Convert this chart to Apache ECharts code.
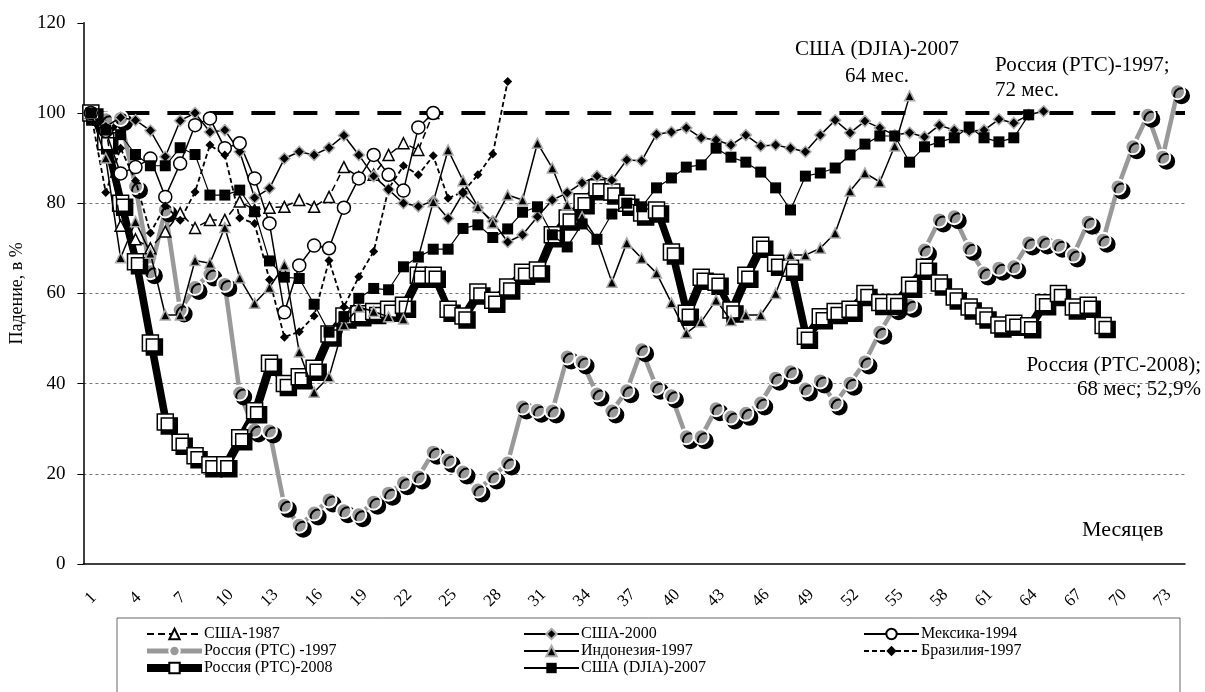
<!DOCTYPE html>
<html><head><meta charset="utf-8">
<script src="https://cdn.jsdelivr.net/npm/echarts@6/dist/echarts.min.js"></script>
<style>html,body{margin:0;padding:0;background:#fff}#c{width:1205px;height:692px}</style>
</head><body><div id="c"></div><script>
const months = ['1','2','3','4','5','6','7','8','9','10','11','12','13','14','15','16','17','18','19','20','21','22','23','24','25','26','27','28','29','30','31','32','33','34','35','36','37','38','39','40','41','42','43','44','45','46','47','48','49','50','51','52','53','54','55','56','57','58','59','60','61','62','63','64','65','66','67','68','69','70','71','72','73','74'];
const usa1987 = [100, 97, 75, 72, 70, 73.7, 77.8, 74.5, 76.3, 76.3, 80.4, 78.5, 79, 79.2, 80.7, 79.2, 81.4, 88, 85.8, 86.3, 90.7, 93.3, 91.8, 100];
const usa2000 = [100, 97, 99, 98.4, 96.1, 90.3, 98.3, 100, 95.8, 96.2, 91.4, 81.2, 83.3, 89.9, 91.4, 90.7, 92.3, 95, 90.7, 86, 83, 80, 79.3, 80.5, 76.6, 82.2, 79, 76, 71.4, 73, 77, 80.7, 82.3, 84.5, 86, 85.1, 89.6, 89.4, 95.3, 95.8, 96.7, 94.5, 94, 92.9, 95.1, 92.7, 92.9, 92.2, 91.4, 95.1, 98.4, 95.6, 98.2, 96.7, 95.1, 95.6, 94.7, 97.3, 96.2, 96, 96.2, 98.6, 97.8, 99.6, 100.4];
const mexico1994 = [100, 96, 86.6, 88, 89.9, 81.4, 88.8, 97.3, 98.8, 92.2, 93.3, 85.5, 75.5, 55.8, 66.2, 70.6, 70, 79, 85.5, 90.7, 86.3, 82.8, 96.8, 100];
const russia1997 = [100, 98.5, 98.8, 83.7, 64.8, 78.5, 56.3, 61.3, 64.3, 62, 37.9, 29.7, 29.5, 13, 8.6, 11.3, 14.2, 11.8, 10.9, 13.7, 15.7, 18, 19.3, 24.8, 23, 20.4, 16.4, 19.3, 22.4, 34.8, 34.1, 33.9, 45.9, 44.8, 37.7, 33.9, 38.4, 47.5, 39.2, 37.3, 28.2, 28.2, 34.4, 32.6, 33.4, 35.7, 41.2, 42.6, 38.8, 40.6, 35.7, 40.1, 44.8, 51.4, 56.8, 57.4, 69.6, 76.3, 77, 70, 64.5, 65.6, 65.9, 71.2, 71.4, 70.7, 68.5, 75.8, 71.8, 83.6, 92.5, 99.5, 90.2, 104.7];
const indonesia1997 = [100, 90, 67.9, 75.9, 68.9, 55.2, 55.2, 67.3, 66.7, 74.6, 63.4, 57.8, 61.3, 66.3, 47, 38.1, 41.5, 53, 57, 56, 54.8, 54.3, 68, 80.3, 91.8, 85, 79.2, 75.6, 81.8, 80.7, 93.3, 87.8, 79.6, 77, 72, 62.5, 71.2, 67.8, 64.5, 57.9, 51.2, 53.7, 58.5, 54, 55.2, 55.2, 60, 68.5, 68.5, 70, 73.4, 82.7, 86.7, 84.7, 92.7, 103.8];
const brazil1997 = [100, 82.4, 92.2, 85, 73.4, 79.4, 76.2, 82.5, 92.9, 90.7, 76.7, 75.5, 63, 50.3, 51.5, 55, 67.3, 57, 63.7, 69.3, 83.2, 88.3, 86.3, 90.5, 81.1, 82.5, 86.3, 90.9, 107];
const russia2008 = [100, 93.6, 80, 67, 49, 31.5, 27, 24, 22, 22, 28, 34, 44.5, 40, 41.5, 43.4, 51, 55, 55.5, 56, 56.5, 57.4, 64, 64, 56.5, 55, 60.3, 58.5, 61.4, 64.7, 65.2, 73, 76.7, 80.3, 83.4, 82.5, 80, 77.8, 78.5, 69.2, 55.6, 63.6, 62.5, 56.3, 64, 70.7, 66.7, 65.6, 50.5, 54.8, 56, 56.5, 60, 58, 58, 61.8, 65.8, 62.3, 59.2, 57, 55, 53, 53.4, 52.8, 57.9, 60, 57, 57.4, 52.9];
const djia2007 = [100, 96.2, 95.2, 90.8, 88.3, 88.3, 92.3, 90.8, 81.8, 81.8, 82.9, 78.1, 67.2, 63.6, 63.3, 57.6, 51.4, 54.8, 58.9, 61.1, 60.8, 65.9, 68.1, 69.8, 69.8, 74.4, 75.2, 72.4, 74.3, 78, 79.2, 73, 70.3, 75.4, 72, 77.6, 80, 79.2, 83.4, 85.6, 88, 88.5, 92.2, 90.2, 89.1, 86.9, 83.4, 78.5, 86, 86.7, 87.8, 90.7, 93.1, 94.9, 94.9, 89.1, 92.5, 93.6, 94.5, 96.9, 94.5, 93.6, 94.5, 99.6];
const yTicks = [0, 20, 40, 60, 80, 100, 120];
const gridValues = [20, 40, 60, 80];
const baseLevel = 100;

const F = "'Liberation Serif','Times New Roman',serif";
const names = {
  a: 'США-1987', b: 'США-2000', c: 'Мексика-1994',
  d: 'Россия (РТС) -1997', e: 'Индонезия-1997', f: 'Бразилия-1997',
  g: 'Россия (РТС)-2008', h: 'США (DJIA)-2007'
};
const sh = {shadowColor: '#000', shadowOffsetX: 4, shadowOffsetY: 4, shadowBlur: 0};

const chart = echarts.init(document.getElementById('c'), null, {renderer: 'canvas'});
const legendBase = {orient: 'vertical', top: 621, itemWidth: 55, itemHeight: 13, itemGap: 1,
  textStyle: {fontFamily: F, fontSize: 16, lineHeight: 14, color: '#000', padding: [0, 0, 0, -3]}, selectedMode: false};
function mk(o) { return Object.assign({type: 'line', showSymbol: true, showAllSymbol: true}, o); }
chart.setOption({
  animation: false,
  backgroundColor: '#fff',
  grid: {left: 82, right: 20, top: 22.8, bottom: 128, containLabel: false},
  legend: [
    Object.assign({left: 138, data: [names.a, {name: names.d, lineStyle: {width: 5}}, {name: names.g, lineStyle: {width: 8}}]}, legendBase),
    Object.assign({left: 518, data: [names.b, names.e, names.h]}, legendBase),
    Object.assign({left: 858, data: [names.c, names.f]}, legendBase)
  ],
  xAxis: {
    type: 'category', data: months, boundaryGap: true,
    axisLine: {lineStyle: {color: '#000', width: 1.5}},
    axisTick: {interval: 0, length: 6, lineStyle: {color: '#000'}},
    axisLabel: {interval: 2, rotate: 45, align: 'center', verticalAlign: 'middle', fontFamily: F, fontSize: 17, color: '#000', margin: 34},
    splitLine: {show: false}
  },
  yAxis: {
    type: 'value', min: yTicks[0], max: yTicks[yTicks.length - 1], interval: 20,
    name: 'Падение, в %', nameLocation: 'middle', nameGap: 56, nameRotate: 90,
    nameTextStyle: {fontFamily: F, fontSize: 18, color: '#000'},
    axisLine: {show: true, lineStyle: {color: '#000', width: 1.5}},
    axisTick: {show: true, length: 6, lineStyle: {color: '#000'}},
    axisLabel: {fontFamily: F, fontSize: 19, color: '#000', margin: 18},
    splitLine: {show: false}
  },
  graphic: [
    {type: 'rect', shape: {x: 117, y: 618, width: 1063, height: 80}, style: {fill: 'none', stroke: '#666', lineWidth: 1}, silent: true},
    {type: 'text', left: 1082, top: 519, style: {text: 'Месяцев', font: '22px ' + F, fill: '#000'}},
    {type: 'text', x: 877, y: 36, style: {text: 'США (DJIA)-2007\n64 мес.', font: '21px ' + F, fill: '#000', textAlign: 'center', lineHeight: 27}},
    {type: 'text', x: 995, y: 53, style: {text: 'Россия (РТС)-1997;\n72 мес.', font: '21px ' + F, fill: '#000', textAlign: 'left', lineHeight: 25}},
    {type: 'text', x: 1201, y: 353, style: {text: 'Россия (РТС-2008);\n68 мес; 52,9%', font: '21px ' + F, fill: '#000', textAlign: 'right', lineHeight: 24}}
  ],
  series: [
    mk({name: names.a, data: usa1987, symbol: 'triangle', symbolSize: 11,
      lineStyle: {color: '#000', width: 1.5, type: [7, 4]},
      itemStyle: {color: '#fff', borderColor: '#000', borderWidth: 1.5},
      markLine: {silent: true, symbol: 'none', label: {show: false}, z: 0,
        data: gridValues.map(v => ({yAxis: v, lineStyle: {color: '#777', width: 1, type: [3, 3]}}))
          .concat([{yAxis: baseLevel, lineStyle: {color: '#000', width: 4, type: [24, 18]}}])}}),
    mk({name: names.b, data: usa2000, symbol: 'diamond', symbolSize: 11,
      lineStyle: {color: '#000', width: 1.5},
      itemStyle: {color: '#000', borderColor: '#aaa', borderWidth: 1.5}}),
    mk({name: names.c, data: mexico1994, symbol: 'circle', symbolSize: 13,
      lineStyle: {color: '#000', width: 1.5},
      itemStyle: {color: '#fff', borderColor: '#000', borderWidth: 1.5}}),
    mk({name: names.d, data: russia1997, symbol: 'circle', symbolSize: 15, z: 1,
      lineStyle: {color: '#999', width: 4.5},
      itemStyle: Object.assign({color: '#999', borderColor: '#fff', borderWidth: 2}, sh)}),
    mk({name: names.e, data: indonesia1997, symbol: 'triangle', symbolSize: 10,
      lineStyle: {color: '#000', width: 1.5},
      itemStyle: {color: '#000', borderColor: '#aaa', borderWidth: 1.5}}),
    mk({name: names.f, data: brazil1997, symbol: 'diamond', symbolSize: 9,
      lineStyle: {color: '#000', width: 1.8, type: [5, 3]},
      itemStyle: {color: '#000'}}),
    mk({name: names.g, data: russia2008, symbol: 'rect', symbolSize: 16, z: 1,
      lineStyle: {color: '#000', width: 6, shadowColor: '#000', shadowOffsetX: 2, shadowOffsetY: 2, shadowBlur: 0},
      itemStyle: Object.assign({color: '#fff', borderColor: '#000', borderWidth: 1.5}, sh)}),
    mk({name: names.h, data: djia2007, symbol: 'rect', symbolSize: 11,
      lineStyle: {color: '#000', width: 1.2},
      itemStyle: {color: '#000'}})
  ]
});
</script></body></html>
